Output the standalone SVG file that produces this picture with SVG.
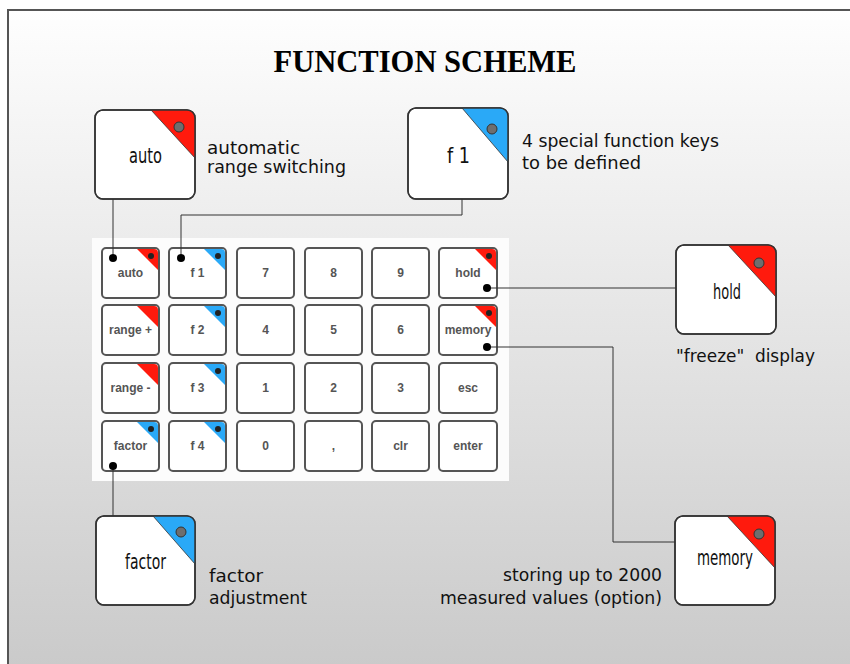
<svg xmlns="http://www.w3.org/2000/svg" width="850" height="664" viewBox="0 0 850 664">
<defs>
<linearGradient id="bg" x1="0" y1="0" x2="0" y2="1">
<stop offset="0" stop-color="#fefefe"/>
<stop offset="1" stop-color="#c9c9c9"/>
</linearGradient>
<style>
.big{fill:#ffffff;stroke:#333;stroke-width:1.5}
.red{fill:#ff1a0d}
.blue{fill:#2aa9f7}
.pin{fill:#6e6e6e;stroke:#333;stroke-width:1}
.bl{font-family:"DejaVu Sans",sans-serif;font-size:22px;fill:#111;text-anchor:middle}
.desc{font-family:"DejaVu Sans",sans-serif;font-size:17px;fill:#111}
.key{fill:#fff;stroke:#555;stroke-width:2}
.kl{font-family:"Liberation Sans",Arial,sans-serif;font-weight:bold;font-size:12px;fill:#555;text-anchor:middle}
.kd{fill:#222}
.conn{fill:none;stroke:#333;stroke-width:1}
.dot{fill:#000}
</style>
</defs>
<rect x="0" y="0" width="850" height="664" fill="#fff"/>
<rect x="8" y="10" width="850" height="670" fill="url(#bg)" stroke="#555" stroke-width="2"/>
<text x="425" y="72" font-family="Liberation Serif,serif" font-weight="bold" font-size="32" text-anchor="middle" textLength="303" lengthAdjust="spacingAndGlyphs" fill="#000">FUNCTION SCHEME</text>

<g id="keypad">
<rect x="92" y="238" width="417" height="243" fill="#fcfcfc"/>
<g id="k-auto"><rect class="key" x="102" y="248" width="57" height="50" rx="4"/><path class="red" d="M137,249 L154,249 Q158,249 158,253 L158,270 Z"/><circle class="kd" cx="151" cy="256" r="3"/><text class="kl" x="130.5" y="277">auto</text></g>
<g id="k-f1"><rect class="key" x="169" y="248" width="57" height="50" rx="4"/><path class="blue" d="M204,249 L221,249 Q225,249 225,253 L225,270 Z"/><circle class="kd" cx="218" cy="256" r="3"/><text class="kl" x="197.5" y="277">f 1</text></g>
<g id="k-7"><rect class="key" x="237" y="248" width="57" height="50" rx="4"/><text class="kl" x="265.5" y="277">7</text></g>
<g id="k-8"><rect class="key" x="305" y="248" width="57" height="50" rx="4"/><text class="kl" x="333.5" y="277">8</text></g>
<g id="k-9"><rect class="key" x="372" y="248" width="57" height="50" rx="4"/><text class="kl" x="400.5" y="277">9</text></g>
<g id="k-hold"><rect class="key" x="439" y="248" width="58" height="50" rx="4"/><path class="red" d="M475,249 L492,249 Q496,249 496,253 L496,270 Z"/><circle class="kd" cx="489" cy="256" r="3"/><text class="kl" x="468" y="277">hold</text></g>

<g id="k-rangeplus"><rect class="key" x="102" y="305" width="57" height="50" rx="4"/><path class="red" d="M137,306 L154,306 Q158,306 158,310 L158,327 Z"/><text class="kl" x="130.5" y="334">range +</text></g>
<g id="k-f2"><rect class="key" x="169" y="305" width="57" height="50" rx="4"/><path class="blue" d="M204,306 L221,306 Q225,306 225,310 L225,327 Z"/><circle class="kd" cx="218" cy="313" r="3"/><text class="kl" x="197.5" y="334">f 2</text></g>
<g id="k-4"><rect class="key" x="237" y="305" width="57" height="50" rx="4"/><text class="kl" x="265.5" y="334">4</text></g>
<g id="k-5"><rect class="key" x="305" y="305" width="57" height="50" rx="4"/><text class="kl" x="333.5" y="334">5</text></g>
<g id="k-6"><rect class="key" x="372" y="305" width="57" height="50" rx="4"/><text class="kl" x="400.5" y="334">6</text></g>
<g id="k-memory"><rect class="key" x="439" y="305" width="58" height="50" rx="4"/><path class="red" d="M475,306 L492,306 Q496,306 496,310 L496,327 Z"/><circle class="kd" cx="489" cy="313" r="3"/><text class="kl" x="468" y="334">memory</text></g>

<g id="k-rangeminus"><rect class="key" x="102" y="363" width="57" height="50" rx="4"/><path class="red" d="M137,364 L154,364 Q158,364 158,368 L158,385 Z"/><text class="kl" x="130.5" y="392">range -</text></g>
<g id="k-f3"><rect class="key" x="169" y="363" width="57" height="50" rx="4"/><path class="blue" d="M204,364 L221,364 Q225,364 225,368 L225,385 Z"/><circle class="kd" cx="218" cy="371" r="3"/><text class="kl" x="197.5" y="392">f 3</text></g>
<g id="k-1"><rect class="key" x="237" y="363" width="57" height="50" rx="4"/><text class="kl" x="265.5" y="392">1</text></g>
<g id="k-2"><rect class="key" x="305" y="363" width="57" height="50" rx="4"/><text class="kl" x="333.5" y="392">2</text></g>
<g id="k-3"><rect class="key" x="372" y="363" width="57" height="50" rx="4"/><text class="kl" x="400.5" y="392">3</text></g>
<g id="k-esc"><rect class="key" x="439" y="363" width="58" height="50" rx="4"/><text class="kl" x="468" y="392">esc</text></g>

<g id="k-factor"><rect class="key" x="102" y="421" width="57" height="50" rx="4"/><path class="blue" d="M137,422 L154,422 Q158,422 158,426 L158,443 Z"/><circle class="kd" cx="151" cy="429" r="3"/><text class="kl" x="130.5" y="450">factor</text></g>
<g id="k-f4"><rect class="key" x="169" y="421" width="57" height="50" rx="4"/><path class="blue" d="M204,422 L221,422 Q225,422 225,426 L225,443 Z"/><circle class="kd" cx="218" cy="429" r="3"/><text class="kl" x="197.5" y="450">f 4</text></g>
<g id="k-0"><rect class="key" x="237" y="421" width="57" height="50" rx="4"/><text class="kl" x="265.5" y="450">0</text></g>
<g id="k-comma"><rect class="key" x="305" y="421" width="57" height="50" rx="4"/><text class="kl" x="333.5" y="450">,</text></g>
<g id="k-clr"><rect class="key" x="372" y="421" width="57" height="50" rx="4"/><text class="kl" x="400.5" y="450">clr</text></g>
<g id="k-enter"><rect class="key" x="439" y="421" width="58" height="50" rx="4"/><text class="kl" x="468" y="450">enter</text></g>
</g>

<g id="connectors">
<polyline class="conn" points="113,199 113,258"/>
<polyline class="conn" points="462,199 462,215 181,215 181,258"/>
<polyline class="conn" points="487,288 676,288"/>
<polyline class="conn" points="487,347 613,347 613,542 675,542"/>
<polyline class="conn" points="113,466 113,516"/>
<circle class="dot" cx="113" cy="258" r="4"/>
<circle class="dot" cx="181" cy="258" r="4"/>
<circle class="dot" cx="487" cy="288" r="4"/>
<circle class="dot" cx="487" cy="347" r="4"/>
<circle class="dot" cx="113" cy="466" r="4"/>
</g>

<g id="node-auto">
<rect class="big" x="95" y="110" width="100" height="89" rx="8"/>
<path class="red" d="M151,110 L187,110 Q195,110 195,118 L195,158 Z"/>
<rect x="95" y="110" width="100" height="89" rx="8" fill="none" stroke="#333" stroke-width="1.5"/>
<line x1="151" y1="110" x2="195" y2="158" stroke="#333" stroke-width="0.8"/>
<circle class="pin" cx="179" cy="127" r="5"/>
<text class="bl" x="145.5" y="163" textLength="33" lengthAdjust="spacingAndGlyphs">auto</text>
<text class="desc" x="207" y="154" textLength="93" lengthAdjust="spacingAndGlyphs">automatic</text>
<text class="desc" x="207" y="173" textLength="139" lengthAdjust="spacingAndGlyphs">range switching</text>
</g>

<g id="node-f1">
<rect class="big" x="408" y="108" width="100" height="91" rx="8"/>
<path class="blue" d="M462,108 L500,108 Q508,108 508,116 L508,162 Z"/>
<rect x="408" y="108" width="100" height="91" rx="8" fill="none" stroke="#333" stroke-width="1.5"/>
<line x1="462" y1="108" x2="508" y2="162" stroke="#333" stroke-width="0.8"/>
<circle class="pin" cx="492" cy="129" r="5"/>
<text class="bl" x="458.5" y="163" textLength="23" lengthAdjust="spacingAndGlyphs">f 1</text>
<text class="desc" x="522" y="147" textLength="197" lengthAdjust="spacingAndGlyphs">4 special function keys</text>
<text class="desc" x="522" y="169" textLength="119" lengthAdjust="spacingAndGlyphs">to be defined</text>
</g>

<g id="node-hold">
<rect class="big" x="676" y="245" width="100" height="89" rx="8"/>
<path class="red" d="M728,245 L768,245 Q776,245 776,253 L776,297 Z"/>
<rect x="676" y="245" width="100" height="89" rx="8" fill="none" stroke="#333" stroke-width="1.5"/>
<line x1="728" y1="245" x2="776" y2="297" stroke="#333" stroke-width="0.8"/>
<circle class="pin" cx="759" cy="263" r="5"/>
<text class="bl" x="727" y="299" textLength="28" lengthAdjust="spacingAndGlyphs">hold</text>
<text class="desc" x="676" y="362" textLength="139" lengthAdjust="spacingAndGlyphs" xml:space="preserve">"freeze"  display</text>
</g>

<g id="node-factor">
<rect class="big" x="96" y="516" width="99" height="89" rx="8"/>
<path class="blue" d="M153,516 L187,516 Q195,516 195,524 L195,564 Z"/>
<rect x="96" y="516" width="99" height="89" rx="8" fill="none" stroke="#333" stroke-width="1.5"/>
<line x1="153" y1="516" x2="195" y2="564" stroke="#333" stroke-width="0.8"/>
<circle class="pin" cx="181" cy="532" r="5"/>
<text class="bl" x="145.5" y="569" textLength="41" lengthAdjust="spacingAndGlyphs">factor</text>
<text class="desc" x="209" y="582" textLength="54" lengthAdjust="spacingAndGlyphs">factor</text>
<text class="desc" x="209" y="604" textLength="98" lengthAdjust="spacingAndGlyphs">adjustment</text>
</g>

<g id="node-memory">
<rect class="big" x="675" y="516" width="100" height="89" rx="8"/>
<path class="red" d="M727,516 L767,516 Q775,516 775,524 L775,568 Z"/>
<rect x="675" y="516" width="100" height="89" rx="8" fill="none" stroke="#333" stroke-width="1.5"/>
<line x1="727" y1="516" x2="775" y2="568" stroke="#333" stroke-width="0.8"/>
<circle class="pin" cx="759" cy="534" r="5"/>
<text class="bl" x="725" y="565" textLength="56" lengthAdjust="spacingAndGlyphs">memory</text>
<text class="desc" x="662" y="581" text-anchor="end" textLength="159" lengthAdjust="spacingAndGlyphs">storing up to 2000</text>
<text class="desc" x="662" y="604" text-anchor="end" textLength="222" lengthAdjust="spacingAndGlyphs">measured values (option)</text>
</g>
</svg>
